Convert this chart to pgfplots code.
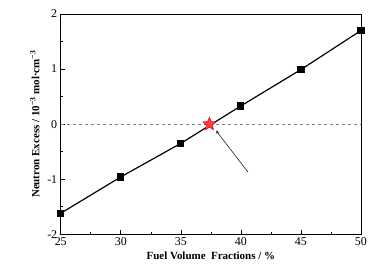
\documentclass[border=0pt]{standalone}
\usepackage{pgfplots}
\pgfplotsset{compat=1.18}
\usepackage{fontspec}
\setmainfont{Liberation Serif}
\pgfdeclareplotmark{fstar}{%
  \pgfpathmoveto{\pgfqpointpolar{90}{\pgfplotmarksize}}%
  \pgfpathlineto{\pgfqpointpolar{126}{0.45\pgfplotmarksize}}%
  \pgfpathlineto{\pgfqpointpolar{162}{\pgfplotmarksize}}%
  \pgfpathlineto{\pgfqpointpolar{198}{0.45\pgfplotmarksize}}%
  \pgfpathlineto{\pgfqpointpolar{234}{\pgfplotmarksize}}%
  \pgfpathlineto{\pgfqpointpolar{270}{0.45\pgfplotmarksize}}%
  \pgfpathlineto{\pgfqpointpolar{306}{\pgfplotmarksize}}%
  \pgfpathlineto{\pgfqpointpolar{342}{0.45\pgfplotmarksize}}%
  \pgfpathlineto{\pgfqpointpolar{18}{\pgfplotmarksize}}%
  \pgfpathlineto{\pgfqpointpolar{54}{0.45\pgfplotmarksize}}%
  \pgfpathclose
  \pgfusepathqfillstroke}
\begin{document}
\begin{tikzpicture}
\begin{axis}[
  name=ax,
  scale only axis,
  width=300bp, height=220bp,
  xmin=25, xmax=50, ymin=-2, ymax=2,
  xtick={25,30,35,40,45,50},
  ytick={-2,-1,0,1,2},
  minor x tick num=1,
  minor y tick num=1,
  tick align=inside,
  xtick pos=bottom, ytick pos=left,
  major tick length=4bp, minor tick length=2.5bp,
  tick style={black, line width=0.6pt},
  axis line style={line width=0.7pt},
  /pgf/number format/assume math mode=true,
  ticklabel style={font=\fontsize{12}{13}\selectfont},
  xlabel={\textbf{Fuel Volume\ \ Fractions / \%}},
  ylabel={\textbf{Neutron Excess / 10\textsuperscript{−3} mol·cm\textsuperscript{−3}}},
  label style={font=\fontsize{11}{13}\selectfont},
  xlabel style={yshift=1bp},
  ylabel style={yshift=1bp},
  clip=false,
]
\addplot[gray, dashed, line width=0.7pt, forget plot] coordinates {(25,0) (50,0)};
\addplot[black, line width=1.2pt, mark=square*, mark size=3bp, mark options={solid}] coordinates {
(25,-1.62) (30,-0.96) (35,-0.35) (40,0.33) (45,0.99) (50,1.70)};
\addplot[only marks, mark=fstar, mark size=7bp, mark options={draw=red!75!black, fill=red!75, line width=0.4pt}] coordinates {(37.38,0)};
\draw[->, >=stealth, line width=0.5pt] (axis cs:40.58,-0.87) -- (axis cs:37.94,-0.12);
\end{axis}
\path[use as bounding box] ([xshift=-60.7bp,yshift=-41bp]ax.south west) rectangle ([xshift=29bp,yshift=14bp]ax.north east);
\end{tikzpicture}
\end{document}
